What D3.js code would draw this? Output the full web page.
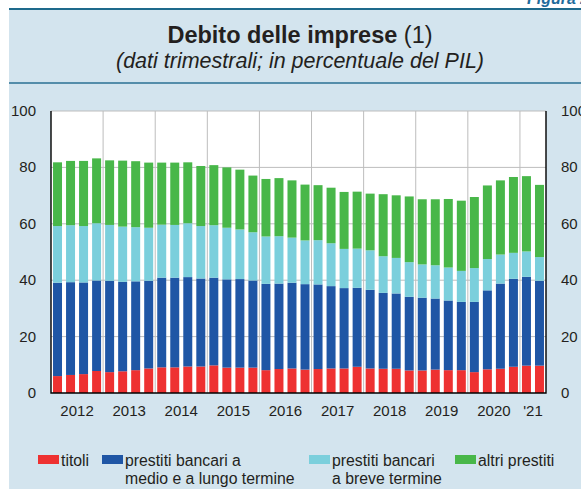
<!DOCTYPE html>
<html>
<head>
<meta charset="utf-8">
<script src="https://cdn.jsdelivr.net/npm/d3@7"></script>
<style>
  body { margin: 0; background: #fff; }
  svg { display: block; font-family: "Liberation Sans", Arial, sans-serif; }
</style>
</head>
<body>
<svg id="chart" width="581" height="489"></svg>
<script>
// quarters 2012Q1 .. 2021Q2
var quarters = [];
for (var yr = 2012; yr <= 2021; yr++) {
    for (var q = 1; q <= 4; q++) {
        if (yr === 2021 && q > 2) break;
        quarters.push(yr + 'Q' + q);
    }
}
var yearLabels = ['2012', '2013', '2014', '2015', '2016', '2017', '2018', '2019', '2020', "'21"];
var yTicks = [0, 20, 40, 60, 80, 100];

// values (% of GDP)
var titoli = [6.0, 6.4, 6.7, 7.8, 7.4, 7.7, 8.1, 8.7, 9.1, 9.1, 9.4, 9.4, 9.8, 9.0, 9.0, 9.0, 8.1, 8.5, 8.7,
    8.3, 8.5, 8.7, 8.7, 9.3, 8.7, 8.6, 8.6, 8.0, 8.0, 8.3, 8.1, 8.1, 7.4, 8.4, 8.6, 9.3, 9.7, 9.7];
var bancariLungo = [33.1, 32.9, 32.5, 32.1, 32.4, 31.7, 31.5, 31.1, 31.8, 31.8, 31.7, 31.2, 31.1, 31.3, 31.4, 30.9, 30.6, 30.3, 30.4,
    30.3, 30.0, 29.2, 28.5, 28.0, 27.9, 26.9, 26.7, 26.1, 25.8, 25.2, 24.7, 24.2, 24.9, 28.0, 30.2, 31.2, 31.5, 30.1];
var bancariBreve = [20.1, 20.2, 20.0, 20.3, 19.8, 19.6, 19.2, 18.8, 18.8, 18.7, 19.1, 18.6, 18.6, 18.3, 17.6, 17.1, 16.8, 16.8, 16.0,
    15.5, 15.7, 15.2, 13.9, 13.9, 14.0, 13.0, 12.6, 12.3, 11.8, 11.8, 11.7, 11.0, 12.0, 11.1, 10.3, 9.2, 9.0, 8.4];
var altriPrestiti = [22.6, 22.8, 23.1, 23.0, 22.9, 23.4, 23.4, 23.1, 22.0, 22.1, 21.6, 21.3, 21.3, 21.4, 21.2, 20.1, 20.4, 20.6, 20.3,
    19.8, 19.5, 19.7, 20.2, 20.2, 20.1, 22.0, 22.2, 23.3, 23.1, 23.4, 24.3, 24.9, 25.2, 26.1, 26.3, 26.9, 26.7, 25.6];

var seriesNames = ['titoli', 'prestiti bancari a\nmedio e a lungo termine', 'prestiti bancari\na breve termine', 'altri prestiti'];
var seriesColors = ['#ee3131', '#1f56a5', '#7bcfdc', '#48b749'];

var rows = quarters.map(function (q, i) {
    return { q: q, s0: titoli[i], s1: bancariLungo[i], s2: bancariBreve[i], s3: altriPrestiti[i] };
});
var stack = d3.stack().keys(['s0', 's1', 's2', 's3'])(rows);

var svg = d3.select('#chart');
var ink = '#231f20';

// panel
svg.append('rect').attr('x', 9).attr('y', 9).attr('width', 600).attr('height', 480).attr('fill', '#d3e4ee');
svg.append('line').attr('x1', 9).attr('x2', 581).attr('y1', 9).attr('y2', 9)
    .attr('stroke', '#1e6a8c').attr('stroke-width', 2.2);
svg.append('line').attr('x1', 9).attr('x2', 581).attr('y1', 83).attr('y2', 83)
    .attr('stroke', '#2a7193').attr('stroke-width', 1.6);
svg.append('text').attr('x', 527).attr('y', 4).attr('fill', '#1f6c9c')
    .style('font-size', '16px').style('font-weight', 'bold').style('font-style', 'italic').text('Figura 2.4');

var title = svg.append('text').attr('x', 300).attr('y', 43).attr('text-anchor', 'middle')
    .attr('fill', ink).style('font-size', '23.5px');
title.append('tspan').style('font-weight', 'bold').text('Debito delle imprese');
title.append('tspan').text(' (1)');
svg.append('text').attr('x', 300).attr('y', 68).attr('text-anchor', 'middle')
    .attr('fill', ink).style('font-size', '21.5px').style('font-style', 'italic')
    .text('(dati trimestrali; in percentuale del PIL)');

// plot area
var pL = 51, pR = 546, pT = 111, pB = 393;
var xS = d3.scaleBand().domain(quarters).range([pL, pR]).paddingInner(0.31).paddingOuter(0.155);
var yS = d3.scaleLinear().domain([0, 100]).range([pB, pT]);

svg.append('rect').attr('x', pL).attr('y', pT).attr('width', pR - pL).attr('height', pB - pT).attr('fill', '#fff');

var grid = svg.append('g');
grid.selectAll('line.h').data(yTicks.slice(1)).enter().append('line')
    .attr('x1', pL).attr('x2', pR).attr('y1', yS).attr('y2', yS)
    .attr('stroke', '#bdbdbd').attr('stroke-width', 1);
var step = (pR - pL) / quarters.length;
var yearBounds = d3.range(1, 10).map(function (k) { return pL + k * 4 * step; });
grid.selectAll('line.v').data(yearBounds).enter().append('line')
    .attr('x1', function (d) { return d; }).attr('x2', function (d) { return d; })
    .attr('y1', pT).attr('y2', pB)
    .attr('stroke', '#bdbdbd').attr('stroke-width', 1);

var layers = svg.append('g').selectAll('g').data(stack).enter().append('g')
    .attr('fill', function (d, i) { return seriesColors[i]; });
layers.selectAll('rect').data(function (d) { return d; }).enter().append('rect')
    .attr('x', function (d) { return xS(d.data.q); })
    .attr('width', xS.bandwidth())
    .attr('y', function (d) { return yS(d[1]); })
    .attr('height', function (d) { return yS(d[0]) - yS(d[1]); });

// axis frame
svg.append('path').attr('d', 'M' + pL + ',' + pT + 'V' + pB + 'H' + pR + 'V' + pT)
    .attr('fill', 'none').attr('stroke', '#000').attr('stroke-width', 1.4);

// tick labels
svg.append('g').selectAll('text').data(yTicks).enter().append('text')
    .attr('x', 36).attr('y', function (d) { return yS(d) + 5; }).attr('text-anchor', 'end')
    .attr('fill', ink).style('font-size', '15px').text(function (d) { return d; });
svg.append('g').selectAll('text').data(yTicks).enter().append('text')
    .attr('x', 561).attr('y', function (d) { return yS(d) + 5; })
    .attr('fill', ink).style('font-size', '15px').text(function (d) { return d; });

svg.append('g').selectAll('text').data(yearLabels).enter().append('text')
    .attr('x', function (d, i) {
        var n = i === 9 ? 2 : 4;
        return pL + (i * 4 + n / 2) * step;
    })
    .attr('y', 416).attr('text-anchor', 'middle')
    .attr('fill', ink).style('font-size', '15px').text(function (d) { return d; });

// legend
var legendX = [38, 102, 309, 455];
var legend = svg.append('g').selectAll('g').data(seriesNames).enter().append('g')
    .attr('transform', function (d, i) { return 'translate(' + legendX[i] + ',0)'; });
legend.append('rect').attr('x', 0).attr('y', 455).attr('width', 21).attr('height', 9)
    .attr('fill', function (d, i) { return seriesColors[i]; });
legend.append('text').attr('y', 466).attr('fill', ink).style('font-size', '15.8px')
    .selectAll('tspan').data(function (d) { return d.split('\n'); }).enter().append('tspan')
    .attr('x', 23).attr('dy', function (d, i) { return i ? 18 : 0; })
    .text(function (d) { return d; });
</script>
</body>
</html>
